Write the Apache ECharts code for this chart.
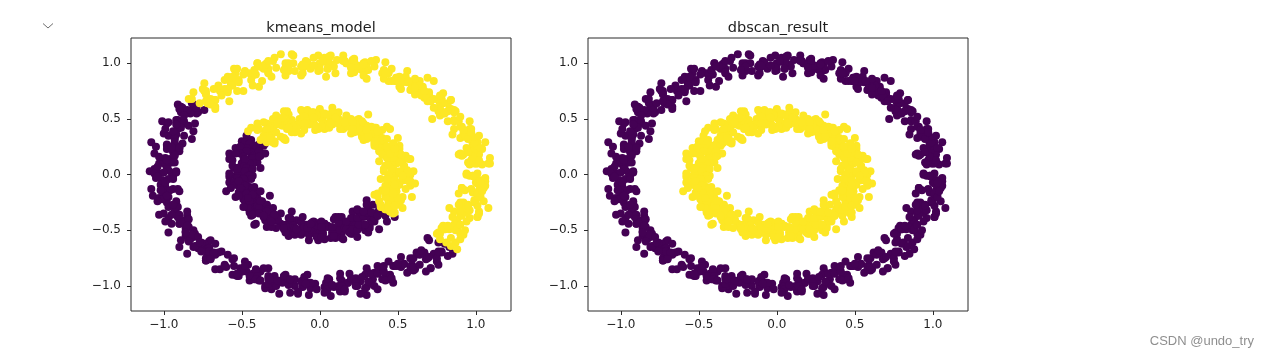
<!DOCTYPE html>
<html>
<head>
<meta charset="utf-8">
<script src="https://cdn.jsdelivr.net/npm/echarts@6.0.0/dist/echarts.min.js"></script>
<style>
html,body{margin:0;padding:0;background:#fff;}
#chart{width:1268px;height:357px;}
</style>
</head>
<body>
<div id="chart"></div>
<script>
// ---- data: make_circles points (outer ring r≈1, inner ring r≈0.5), split by k-means label ----
const titles = ['kmeans_model', 'dbscan_result'];
const xTicks = [-1.0, -0.5, 0.0, 0.5, 1.0];
const yTicks = [-1.0, -0.5, 0.0, 0.5, 1.0];
const tickLabels = ['\u22121.0', '\u22120.5', '0.0', '0.5', '1.0'];

// outer ring, points k-means put in the yellow cluster
const outerYellowK = [
[1.03,-0.05],[0.94,0.01],[1.01,0.01],[1.08,0.10],[0.98,-0.01],[0.96,0.10],[1.04,0.09],[0.99,0.10],
[0.90,0.19],[1.01,0.10],[1.04,0.23],[0.95,0.11],[0.97,0.23],[1.02,0.18],[0.90,0.33],[0.99,0.22],
[1.06,0.29],[0.91,0.17],[0.96,0.35],[0.93,0.34],[1.01,0.29],[0.86,0.41],[0.96,0.36],[0.92,0.37],
[0.91,0.43],[0.96,0.34],[0.86,0.49],[0.96,0.41],[0.82,0.48],[0.90,0.43],[0.84,0.58],[0.96,0.48],
[0.83,0.59],[0.86,0.56],[0.72,0.50],[0.87,0.57],[0.84,0.67],[0.76,0.57],[0.86,0.58],[0.78,0.67],
[0.77,0.64],[0.79,0.55],[0.67,0.69],[0.79,0.73],[0.69,0.66],[0.73,0.68],[0.65,0.76],[0.77,0.65],
[0.65,0.76],[0.73,0.84],[0.59,0.80],[0.65,0.71],[0.60,0.80],[0.69,0.87],[0.51,0.79],[0.62,0.77],
[0.55,0.88],[0.56,0.83],[0.58,0.76],[0.49,0.87],[0.56,0.93],[0.44,0.84],[0.49,0.87],[0.44,0.92],
[0.53,0.83],[0.42,0.92],[0.42,1.01],[0.30,0.86],[0.41,0.94],[0.40,0.91],[0.29,1.01],[0.41,0.86],
[0.30,0.98],[0.31,0.94],[0.30,0.96],[0.21,1.01],[0.29,0.93],[0.21,1.03],[0.22,0.92],[0.17,1.00],
[0.25,0.95],[0.15,1.07],[0.20,0.97],[0.17,1.00],[0.04,0.88],[0.11,1.03],[0.15,1.03],[0.05,0.95],
[-0.01,1.07],[0.08,0.99],[0.00,1.00],[-0.09,1.02],[-0.01,0.93],[0.03,1.05],[-0.10,0.97],[-0.08,1.01],
[-0.06,0.95],[-0.17,1.07],[-0.12,0.97],[-0.04,1.05],[-0.20,0.93],[-0.11,0.99],[-0.22,0.96],[-0.29,1.05],
[-0.22,0.89],[-0.20,1.00],[-0.33,0.95],[-0.28,0.96],[-0.22,1.00],[-0.33,0.91],[-0.40,1.00],[-0.31,0.88],
[-0.36,0.95],[-0.41,0.90],[-0.34,1.00],[-0.43,0.89],[-0.54,0.91],[-0.39,0.79],[-0.48,0.92],[-0.45,0.91],
[-0.57,0.82],[-0.42,0.94],[-0.56,0.84],[-0.52,0.85],[-0.56,0.85],[-0.61,0.76],[-0.55,0.86],[-0.65,0.78],
[-0.56,0.80],[-0.64,0.75],[-0.61,0.85],[-0.73,0.75],[-0.65,0.80],[-0.68,0.77],[-0.58,0.66],[-0.73,0.73],
[-0.75,0.77],[-0.67,0.67],[-0.73,0.72],[-0.77,0.64],[-0.72,0.64],[-0.84,0.68],
[0.77,-0.58],[0.81,-0.61],[0.76,-0.52],[0.87,-0.61],[0.77,-0.53],[0.91,-0.54],[0.83,-0.49],
[0.90,-0.58],[0.78,-0.48],[0.90,-0.53],[0.87,-0.50],[1.01,-0.38],[0.86,-0.45],[0.88,-0.49],[0.96,-0.39],
[0.86,-0.33],[0.94,-0.42],[0.94,-0.34],[0.92,-0.25],[1.02,-0.33],[0.90,-0.37],[0.99,-0.25],[0.95,-0.27],
[1.01,-0.28],[0.89,-0.17],[1.00,-0.23],[0.92,-0.31],[0.93,-0.14],[0.99,-0.23],[0.97,-0.13],[1.06,-0.06],
[0.91,-0.12],[1.02,-0.14],[0.99,-0.02],[1.00,-0.07],[1.05,-0.12],[0.96,-0.01],
[0.96,0.09],[1.02,-0.06],[1.00,0.10],[0.98,-0.01],[1.09,0.10],[0.97,0.13],[0.89,0.18],[0.98,0.15],
[0.94,0.24],[0.92,0.18],[0.98,0.16],[1.09,0.15],[1.02,0.13],[0.98,0.28],[0.95,0.20],[1.00,0.26],
[1.03,0.24],[0.98,0.28],[0.99,0.29],[1.02,0.35],[0.85,0.36],[0.98,0.34],[0.86,0.48],[0.93,0.36],
[0.95,0.32],[0.97,0.41],[0.92,0.40],[0.97,0.38],[0.89,0.48],[0.84,0.59],[0.82,0.57],[0.77,0.53],
[0.90,0.52],[0.78,0.57],[0.82,0.64],[0.77,0.59],[0.79,0.64],[0.76,0.67],[0.80,0.55],[0.78,0.68],
[0.73,0.60],[0.84,0.67],[0.70,0.72],[0.63,0.74],[0.70,0.74],[0.66,0.79],[0.61,0.75],[0.68,0.70],
[0.77,0.71],[0.71,0.66],[0.64,0.84],[0.61,0.72],[0.63,0.80],[0.67,0.75],[0.59,0.81],[0.61,0.78],
[0.61,0.86],[0.46,0.84],[0.57,0.84],[0.46,0.95],[0.49,0.84],[0.52,0.77],[0.51,0.88],[0.48,0.84],
[0.50,0.84],[0.44,0.91],[0.36,1.03],[0.35,0.97],[0.27,0.94],[0.42,0.91],[0.27,0.98],[0.33,1.02],
[0.24,0.98],[0.28,1.00],[0.22,1.04],[0.28,0.89],[0.22,1.02],[0.20,0.91],[0.28,0.99],[0.16,1.02],
[0.06,1.05],[0.15,1.02],[0.07,1.07],[0.05,1.01],[0.09,0.97],[0.20,0.96],[0.10,0.91],[0.06,1.06],
[0.00,0.94],[0.05,1.00],[0.05,0.95],[0.00,0.99],[-0.01,0.96],[0.02,1.02],[-0.17,1.00],[-0.04,0.98],
[-0.18,1.08],[-0.11,0.96],[-0.12,0.89],[-0.10,0.98],[-0.16,0.93],[-0.11,0.91],[-0.20,0.97],[-0.25,1.08],
[-0.30,1.02],[-0.35,0.98],[-0.23,0.94],[-0.35,0.99],[-0.33,1.02],[-0.38,0.97],[-0.37,0.97],[-0.40,1.00],
[-0.37,0.84],[-0.39,0.97],[-0.44,0.85],[-0.33,0.92],[-0.48,0.93],[-0.55,0.95],[-0.49,0.90],[-0.53,0.95],
[-0.59,0.88],[-0.52,0.83],[-0.43,0.80],[-0.49,0.75],[-0.56,0.88],[-0.59,0.76],[-0.57,0.80],[-0.53,0.75],
[-0.61,0.77],[-0.59,0.74],[-0.59,0.77],[-0.74,0.75],[-0.63,0.71],[-0.74,0.82],[-0.70,0.68],[-0.67,0.61],
[-0.67,0.67],[-0.70,0.63],[-0.67,0.59],[-0.73,0.66],[-0.81,0.74],[-0.82,0.68],
[0.84,-0.64],[0.88,-0.67],[0.84,-0.57],[0.79,-0.46],[0.80,-0.49],[0.75,-0.53],[0.92,-0.54],[0.80,-0.49],
[0.87,-0.41],[0.82,-0.46],[0.88,-0.41],[0.85,-0.38],[0.93,-0.50],[0.91,-0.37],[0.90,-0.45],[1.01,-0.38],
[0.90,-0.32],[0.83,-0.30],[0.94,-0.30],[0.90,-0.25],[0.89,-0.27],[0.96,-0.32],[1.08,-0.30],[1.02,-0.35],
[0.98,-0.16],[0.95,-0.28],[1.01,-0.19],[1.05,-0.24],[1.01,-0.17],[1.03,-0.20],[1.06,-0.10],[0.91,-0.12],
[1.05,-0.11],[0.94,0.00],[1.01,-0.08],[1.04,-0.15],[1.06,-0.03],[1.03,-0.07]
];

// outer ring, points k-means put in the purple cluster
const outerPurpleK = [
[-0.81,0.63],[-0.79,0.55],[-0.78,0.56],[-0.82,0.58],[-0.79,0.60],[-0.91,0.49],[-0.83,0.55],[-0.91,0.63],
[-0.92,0.47],[-0.86,0.56],[-0.90,0.46],[-0.81,0.39],[-0.98,0.46],[-0.87,0.48],[-0.92,0.36],[-0.91,0.41],
[-0.88,0.46],[-0.97,0.35],[-0.88,0.28],[-1.00,0.37],[-0.93,0.32],[-0.98,0.27],[-0.87,0.35],[-0.98,0.26],
[-0.96,0.14],[-1.08,0.29],[-0.94,0.20],[-0.95,0.23],[-1.03,0.10],[-0.91,0.25],[-1.00,0.11],[-0.99,0.15],
[-0.97,0.10],[-1.06,0.05],[-0.95,0.11],[-1.03,0.01],[-0.99,0.09],[-1.04,0.01],[-0.92,0.03],[-1.02,-0.09],
[-0.94,-0.01],[-0.97,-0.04],[-1.06,0.04],[-0.99,-0.11],[-0.91,-0.13],[-1.01,-0.05],[-1.03,-0.21],[-0.94,-0.13],
[-0.98,-0.17],[-1.07,-0.19],[-0.96,-0.14],[-0.92,-0.26],[-1.00,-0.21],[-0.98,-0.25],[-0.92,-0.24],[-1.03,-0.36],
[-0.93,-0.29],[-0.85,-0.37],[-0.91,-0.29],[-1.00,-0.35],[-0.92,-0.35],[-0.85,-0.44],[-0.93,-0.33],[-0.95,-0.44],
[-0.85,-0.43],[-0.90,-0.44],[-0.97,-0.52],[-0.86,-0.43],[-0.81,-0.56],[-0.90,-0.44],[-0.86,-0.55],[-0.81,-0.50],
[-0.90,-0.65],[-0.81,-0.54],[-0.71,-0.60],[-0.86,-0.48],[-0.78,-0.66],[-0.81,-0.65],[-0.70,-0.59],[-0.85,-0.71],
[-0.71,-0.66],[-0.75,-0.67],[-0.72,-0.71],[-0.67,-0.62],[-0.73,-0.77],[-0.63,-0.69],[-0.73,-0.75],[-0.65,-0.70],
[-0.67,-0.85],[-0.55,-0.75],[-0.64,-0.85],[-0.61,-0.82],[-0.70,-0.75],[-0.55,-0.82],[-0.53,-0.91],[-0.61,-0.81],
[-0.46,-0.81],[-0.54,-0.90],[-0.50,-0.87],[-0.48,-0.78],[-0.54,-0.90],[-0.42,-0.94],[-0.47,-0.87],[-0.43,-0.89],
[-0.45,-0.95],[-0.33,-0.84],[-0.39,-0.95],[-0.31,-1.03],[-0.29,-0.91],[-0.35,-1.00],[-0.29,-0.94],[-0.38,-0.87],
[-0.20,-0.98],[-0.31,-1.00],[-0.23,-0.92],[-0.24,-0.97],[-0.26,-1.07],[-0.17,-0.96],[-0.23,-0.92],[-0.11,-1.01],
[-0.16,-1.00],[-0.11,-0.95],[-0.19,-1.06],[-0.08,-0.97],[-0.08,-0.90],[0.04,-1.05],[-0.07,-0.99],[-0.06,-1.02],
[0.05,-0.93],[-0.07,-1.08],[0.04,-0.97],[0.03,-1.01],[0.05,-1.00],[0.14,-0.95],[0.05,-1.03],[0.13,-0.93],
[0.13,-1.05],[0.18,-0.97],[0.09,-1.01],[0.19,-0.89],[0.15,-1.00],[0.18,-0.97],[0.30,-1.08],[0.23,-0.93],
[0.20,-0.93],[0.30,-1.01],[0.35,-0.88],[0.26,-0.96],[0.34,-0.94],[0.43,-0.92],[0.35,-1.00],[0.31,-0.88],
[0.44,-0.94],[0.42,-0.90],[0.40,-0.94],[0.51,-0.82],[0.45,-0.90],[0.37,-0.82],[0.47,-0.82],[0.56,-0.88],
[0.52,-0.83],[0.45,-0.92],[0.58,-0.75],[0.60,-0.86],[0.54,-0.80],[0.59,-0.81],[0.71,-0.84],[0.60,-0.75],
[0.58,-0.83],[0.67,-0.71],[0.68,-0.76],[0.63,-0.71],[0.76,-0.81],[0.67,-0.70],[0.62,-0.70],[0.73,-0.71],
[0.76,-0.70],[0.70,-0.59],[0.85,-0.71],[0.76,-0.61],[0.80,-0.62],
[-0.89,0.61],[-0.74,0.58],[-0.88,0.60],[-0.82,0.64],[-0.89,0.56],[-0.85,0.58],[-0.90,0.59],[-0.84,0.44],
[-0.87,0.53],[-0.89,0.42],[-0.80,0.46],[-0.92,0.49],[-1.01,0.48],[-0.92,0.45],[-0.97,0.47],[-0.99,0.41],
[-0.93,0.33],[-0.82,0.32],[-0.90,0.24],[-0.94,0.39],[-0.98,0.23],[-0.93,0.29],[-0.90,0.21],[-0.95,0.25],
[-0.93,0.18],[-0.90,0.24],[-1.06,0.19],[-0.93,0.17],[-1.05,0.25],[-0.98,0.13],[-0.95,0.02],[-0.93,0.11],
[-0.97,0.04],[-0.92,0.02],[-0.98,0.05],[-1.03,0.16],[-1.04,0.07],[-1.09,0.03],[-0.94,-0.04],[-1.06,0.01],
[-1.00,0.02],[-1.05,-0.03],[-1.01,-0.05],[-1.04,-0.02],[-0.97,-0.20],[-0.99,-0.07],[-1.01,-0.22],[-0.90,-0.15],
[-1.01,-0.15],[-1.08,-0.13],[-0.98,-0.19],[-1.02,-0.14],[-1.04,-0.24],[-0.97,-0.29],[-0.85,-0.33],[-0.91,-0.38],
[-0.94,-0.27],[-0.97,-0.39],[-0.90,-0.36],[-0.86,-0.41],[-0.90,-0.40],[-0.88,-0.43],[-0.84,-0.40],[-0.99,-0.42],
[-0.84,-0.47],[-0.95,-0.36],[-0.86,-0.51],[-0.83,-0.58],[-0.80,-0.53],[-0.83,-0.57],[-0.76,-0.61],[-0.82,-0.54],
[-0.85,-0.46],[-0.86,-0.52],[-0.89,-0.59],[-0.74,-0.62],[-0.84,-0.60],[-0.78,-0.56],[-0.80,-0.64],[-0.76,-0.62],
[-0.77,-0.61],[-0.71,-0.76],[-0.71,-0.66],[-0.73,-0.77],[-0.59,-0.72],[-0.71,-0.69],[-0.76,-0.69],[-0.67,-0.72],
[-0.68,-0.70],[-0.70,-0.76],[-0.60,-0.83],[-0.49,-0.84],[-0.52,-0.91],[-0.56,-0.76],[-0.56,-0.90],[-0.51,-0.84],
[-0.45,-0.91],[-0.50,-0.87],[-0.44,-0.91],[-0.41,-0.85],[-0.53,-0.89],[-0.40,-0.91],[-0.48,-0.82],[-0.41,-0.94],
[-0.35,-1.02],[-0.33,-0.93],[-0.33,-0.98],[-0.28,-1.00],[-0.31,-0.95],[-0.36,-0.84],[-0.33,-0.91],[-0.38,-0.95],
[-0.20,-0.99],[-0.32,-0.94],[-0.22,-0.90],[-0.27,-0.95],[-0.20,-0.94],[-0.23,-0.91],[-0.14,-1.07],[-0.16,-0.94],
[-0.14,-1.05],[-0.03,-0.98],[-0.12,-0.96],[-0.19,-0.94],[-0.06,-0.97],[-0.10,-0.92],[-0.09,-0.98],[-0.02,-1.03],
[0.13,-1.04],[0.07,-1.09],[0.06,-0.94],[0.03,-1.06],[0.12,-1.00],[0.16,-1.05],[0.14,-1.00],[0.16,-1.03],
[0.23,-0.97],[0.08,-0.99],[0.24,-1.00],[0.13,-0.89],[0.23,-1.00],[0.26,-1.07],[0.32,-0.98],[0.29,-1.02],
[0.37,-1.03],[0.31,-0.96],[0.30,-0.84],[0.29,-0.90],[0.27,-0.92],[0.42,-0.95],[0.33,-0.89],[0.39,-0.85],
[0.37,-0.89],[0.41,-0.87],[0.41,-0.82],[0.47,-0.97],[0.48,-0.82],[0.46,-0.93],[0.61,-0.85],[0.49,-0.82],
[0.44,-0.78],[0.53,-0.81],[0.52,-0.74],[0.50,-0.80],[0.60,-0.83],[0.71,-0.84],[0.68,-0.87],[0.64,-0.72],
[0.64,-0.81],[0.69,-0.75],[0.75,-0.78],[0.70,-0.74],[0.75,-0.75],[0.78,-0.69],[0.65,-0.68],[0.78,-0.70],
[0.69,-0.57],[0.76,-0.69],[0.82,-0.73],[0.83,-0.65]
];

// inner ring, points k-means put in the yellow cluster
const innerYellowK = [
[0.50,0.02],[0.45,-0.07],[0.54,0.07],[0.44,-0.01],[0.56,0.04],[0.48,-0.01],[0.53,0.13],[0.41,0.03],
[0.52,0.13],[0.49,0.10],[0.60,0.03],[0.45,0.10],[0.46,0.18],[0.54,0.08],[0.42,0.08],[0.50,0.17],
[0.48,0.14],[0.46,0.05],[0.55,0.17],[0.43,0.21],[0.50,0.14],[0.46,0.16],[0.50,0.23],[0.38,0.12],
[0.48,0.22],[0.40,0.30],[0.42,0.17],[0.51,0.23],[0.43,0.21],[0.36,0.30],[0.45,0.17],[0.47,0.28],
[0.37,0.25],[0.42,0.26],[0.50,0.33],[0.39,0.24],[0.34,0.35],[0.43,0.23],[0.40,0.33],[0.35,0.28],
[0.45,0.41],[0.36,0.30],[0.27,0.34],[0.42,0.22],[0.35,0.39],[0.38,0.38],[0.28,0.31],[0.43,0.43],
[0.30,0.36],[0.34,0.37],[0.30,0.38],[0.39,0.33],[0.26,0.43],[0.34,0.33],[0.28,0.46],[0.33,0.38],
[0.20,0.44],[0.30,0.32],[0.20,0.44],[0.23,0.41],[0.31,0.54],[0.24,0.39],[0.15,0.41],[0.25,0.49],
[0.26,0.38],[0.17,0.46],[0.20,0.46],[0.29,0.44],[0.17,0.53],[0.13,0.41],[0.20,0.50],[0.18,0.46],
[0.11,0.52],[0.22,0.40],[0.12,0.50],[0.04,0.42],[0.17,0.46],[0.11,0.55],[0.12,0.48],[0.03,0.41],
[0.17,0.51],[0.06,0.53],[0.08,0.45],[0.07,0.50],[0.00,0.59],[0.09,0.48],[-0.03,0.44],[0.09,0.53],
[0.00,0.51],[0.05,0.46],[-0.09,0.57],[0.02,0.48],[-0.03,0.40],[0.09,0.55],[-0.07,0.49],[-0.06,0.52],
[0.00,0.43],[-0.12,0.58],[-0.06,0.47],[-0.07,0.51],[-0.09,0.47],[-0.04,0.56],[-0.14,0.44],[-0.04,0.52],
[-0.18,0.48],[-0.10,0.53],[-0.17,0.40],[-0.05,0.50],[-0.17,0.42],[-0.14,0.45],[-0.28,0.53],[-0.13,0.46],
[-0.16,0.38],[-0.24,0.48],[-0.13,0.50],[-0.21,0.41],[-0.22,0.45],[-0.20,0.54],[-0.30,0.42],[-0.18,0.38],
[-0.28,0.46],[-0.24,0.44],[-0.30,0.38],[-0.18,0.49],[-0.30,0.39],[-0.22,0.31],[-0.26,0.45],[-0.35,0.39],
[-0.30,0.41],[-0.23,0.32],[-0.34,0.46],[-0.36,0.35],[-0.28,0.38],[-0.33,0.37],[-0.33,0.40],[-0.30,0.29],
[-0.39,0.41],[-0.38,0.31],[-0.33,0.36],[-0.36,0.34],[-0.29,0.30],[-0.44,0.42],[-0.34,0.33],
[0.39,-0.29],[0.45,-0.33],[0.46,-0.23],[0.46,-0.25],[0.44,-0.25],[0.35,-0.18],[0.51,-0.27],[0.40,-0.29],
[0.45,-0.18],[0.44,-0.23],[0.49,-0.20],[0.40,-0.14],[0.52,-0.23],[0.44,-0.20],[0.49,-0.15],[0.38,-0.24],
[0.49,-0.15],[0.47,-0.05],[0.59,-0.20],[0.44,-0.13],[0.45,-0.16],[0.54,-0.05],[0.42,-0.20],[0.50,-0.07],
[0.49,-0.11],[0.51,-0.09],[0.42,-0.14],[0.55,-0.03],[0.47,-0.13],[0.51,0.01],[0.46,-0.07],[0.58,0.00],
[0.48,-0.12],[0.56,0.00],[0.53,-0.03],
[0.58,-0.06],[0.52,0.01],[0.47,0.14],[0.46,0.08],[0.41,0.05],[0.56,0.02],[0.44,0.09],[0.50,0.13],
[0.44,0.10],[0.48,0.12],[0.45,0.17],[0.51,0.02],[0.49,0.16],[0.47,0.05],[0.57,0.14],[0.45,0.17],
[0.38,0.21],[0.47,0.18],[0.42,0.24],[0.40,0.18],[0.47,0.15],[0.58,0.14],[0.51,0.11],[0.47,0.26],
[0.43,0.15],[0.48,0.21],[0.52,0.18],[0.47,0.22],[0.48,0.20],[0.51,0.26],[0.35,0.26],[0.48,0.24],
[0.36,0.36],[0.43,0.24],[0.45,0.19],[0.47,0.28],[0.43,0.25],[0.48,0.23],[0.41,0.31],[0.36,0.42],
[0.34,0.38],[0.29,0.34],[0.43,0.32],[0.31,0.37],[0.35,0.42],[0.30,0.37],[0.33,0.41],[0.30,0.44],
[0.35,0.30],[0.33,0.43],[0.29,0.33],[0.40,0.40],[0.27,0.44],[0.20,0.46],[0.28,0.44],[0.24,0.49],
[0.20,0.44],[0.27,0.39],[0.37,0.39],[0.31,0.34],[0.25,0.50],[0.22,0.38],[0.26,0.45],[0.30,0.40],
[0.23,0.44],[0.25,0.41],[0.27,0.48],[0.12,0.46],[0.23,0.45],[0.12,0.56],[0.17,0.44],[0.20,0.37],
[0.21,0.47],[0.18,0.43],[0.21,0.41],[0.15,0.48],[0.08,0.60],[0.07,0.54],[0.01,0.50],[0.16,0.47],
[0.02,0.52],[0.08,0.56],[0.01,0.52],[0.05,0.54],[0.00,0.57],[0.06,0.42],[0.03,0.55],[0.01,0.44],
[0.10,0.51],[-0.02,0.54],[-0.11,0.56],[-0.02,0.53],[-0.08,0.58],[-0.10,0.52],[-0.04,0.47],[0.07,0.46],
[-0.01,0.41],[-0.05,0.56],[-0.10,0.43],[-0.05,0.49],[-0.03,0.44],[-0.08,0.48],[-0.07,0.45],[-0.04,0.51],
[-0.21,0.48],[-0.08,0.46],[-0.21,0.57],[-0.14,0.45],[-0.12,0.37],[-0.10,0.46],[-0.15,0.42],[-0.10,0.40],
[-0.18,0.46],[-0.23,0.57],[-0.25,0.50],[-0.30,0.46],[-0.17,0.43],[-0.29,0.48],[-0.24,0.51],[-0.29,0.46],
[-0.27,0.47],[-0.30,0.50],[-0.25,0.34],[-0.27,0.47],[-0.31,0.35],[-0.20,0.42],[-0.33,0.44],[-0.40,0.46],
[-0.32,0.42],[-0.36,0.47],[-0.40,0.40],[-0.33,0.35],[-0.23,0.33],[-0.29,0.28],[-0.34,0.41],
[-0.34,0.34],[-0.30,0.29],[-0.36,0.32],[-0.34,0.29],[-0.32,0.33],[-0.46,0.39],
[0.39,-0.27],[0.42,-0.31],[0.47,-0.35],[0.42,-0.31],[0.45,-0.33],[0.48,-0.27],[0.47,-0.29],
[0.37,-0.17],[0.44,-0.29],[0.48,-0.34],[0.50,-0.25],[0.48,-0.28],[0.53,-0.30],[0.47,-0.21],[0.42,-0.10],
[0.42,-0.15],[0.37,-0.19],[0.53,-0.20],[0.41,-0.15],[0.47,-0.09],[0.42,-0.14],[0.47,-0.11],[0.44,-0.08],
[0.50,-0.21],[0.48,-0.08],[0.47,-0.17],[0.58,-0.10],[0.46,-0.06],[0.39,-0.04],[0.48,-0.05],[0.44,0.00],
[0.43,-0.04],[0.50,-0.09],[0.61,-0.08],[0.55,-0.13],[0.51,0.03],[0.48,-0.09],[0.53,-0.01],[0.57,-0.06]
];

// inner ring, points k-means put in the purple cluster
const innerPurpleK = [
[-0.44,0.31],[-0.45,0.23],[-0.39,0.25],[-0.42,0.26],[-0.49,0.21],[-0.39,0.27],[-0.43,0.26],
[-0.41,0.25],[-0.50,0.30],[-0.39,0.19],[-0.47,0.29],[-0.44,0.16],[-0.49,0.24],[-0.38,0.17],[-0.48,0.29],
[-0.40,0.17],[-0.43,0.20],[-0.53,0.06],[-0.46,0.21],[-0.40,0.18],[-0.50,0.10],[-0.52,0.21],[-0.43,0.13],
[-0.49,0.12],[-0.58,0.14],[-0.47,0.03],[-0.43,0.15],[-0.52,0.06],[-0.50,0.10],[-0.46,0.03],[-0.57,0.15],
[-0.48,0.03],[-0.40,0.11],[-0.55,0.06],[-0.49,-0.03],[-0.52,0.03],[-0.43,0.10],[-0.58,-0.02],[-0.47,-0.04],
[-0.51,0.03],[-0.50,-0.02],[-0.45,-0.12],[-0.54,-0.01],[-0.44,0.01],[-0.56,-0.08],[-0.48,-0.08],[-0.53,-0.03],
[-0.40,-0.16],[-0.51,-0.07],[-0.48,0.00],[-0.60,-0.15],[-0.45,-0.11],[-0.46,-0.14],[-0.53,-0.07],[-0.41,-0.22],
[-0.49,-0.12],[-0.48,-0.16],[-0.47,-0.19],[-0.52,-0.10],[-0.42,-0.24],[-0.52,-0.16],[-0.40,-0.21],[-0.48,-0.16],
[-0.42,-0.30],[-0.54,-0.20],[-0.42,-0.29],[-0.45,-0.26],[-0.32,-0.19],[-0.47,-0.26],[-0.45,-0.34],[-0.37,-0.24],
[-0.48,-0.24],[-0.40,-0.33],[-0.40,-0.29],[-0.42,-0.20],[-0.32,-0.33],[-0.44,-0.37],[-0.35,-0.29],[-0.39,-0.31],
[-0.33,-0.37],[-0.45,-0.26],[-0.34,-0.37],[-0.42,-0.45],[-0.38,-0.31],[-0.29,-0.37],[-0.34,-0.35],[-0.41,-0.44],
[-0.30,-0.30],[-0.28,-0.41],[-0.36,-0.38],[-0.31,-0.39],[-0.20,-0.45],[-0.31,-0.36],[-0.34,-0.47],[-0.25,-0.35],
[-0.25,-0.44],[-0.30,-0.39],[-0.18,-0.52],[-0.27,-0.41],[-0.33,-0.45],[-0.18,-0.33],[-0.23,-0.49],[-0.20,-0.48],
[-0.27,-0.41],[-0.12,-0.53],[-0.22,-0.45],[-0.18,-0.46],[-0.17,-0.45],[-0.12,-0.54],[-0.19,-0.43],[-0.09,-0.51],
[-0.20,-0.47],[-0.12,-0.52],[-0.15,-0.41],[-0.03,-0.51],[-0.12,-0.43],[-0.09,-0.46],[-0.20,-0.55],[-0.05,-0.48],
[-0.04,-0.42],[-0.12,-0.52],[0.02,-0.54],[-0.06,-0.45],[-0.03,-0.50],[-0.01,-0.59],[-0.09,-0.48],[0.03,-0.44],
[-0.03,-0.53],[0.01,-0.51],[-0.02,-0.46],[0.10,-0.57],[0.01,-0.48],[0.09,-0.40],[0.08,-0.55],[-0.01,-0.49],
[0.08,-0.52],[0.15,-0.43],[0.07,-0.57],[0.05,-0.46],[0.15,-0.50],[0.10,-0.49],[0.03,-0.44],[0.14,-0.53],
[0.20,-0.42],[0.11,-0.54],[0.14,-0.46],[0.19,-0.51],[0.10,-0.38],[0.19,-0.49],[0.29,-0.45],[0.14,-0.57],
[0.21,-0.42],[0.18,-0.43],[0.29,-0.50],[0.14,-0.38],[0.26,-0.45],[0.22,-0.44],[0.23,-0.43],[0.32,-0.38],
[0.21,-0.46],[0.29,-0.36],[0.27,-0.47],[0.32,-0.39],[0.21,-0.43],[0.31,-0.31],[0.25,-0.41],[0.28,-0.38],
[0.38,-0.49],[0.31,-0.34],[0.25,-0.34],[0.35,-0.42],[0.30,-0.37],[0.36,-0.35],[0.35,-0.40],[0.31,-0.28],
[0.41,-0.35],[0.39,-0.31],[0.35,-0.35],[0.38,-0.31],[0.30,-0.23],[0.40,-0.34],[0.40,-0.31],
[-0.37,0.29],[-0.47,0.31],[-0.35,0.28],[-0.40,0.26],[-0.37,0.19],[-0.36,0.26],[-0.39,0.22],[-0.35,0.19],
[-0.41,0.26],[-0.47,0.35],[-0.48,0.29],[-0.54,0.24],[-0.39,0.21],[-0.51,0.24],[-0.45,0.28],[-0.51,0.22],
[-0.47,0.24],[-0.51,0.25],[-0.45,0.10],[-0.47,0.21],[-0.49,0.10],[-0.39,0.16],[-0.51,0.19],[-0.58,0.19],
[-0.49,0.16],[-0.54,0.19],[-0.56,0.13],[-0.49,0.07],[-0.38,0.06],[-0.44,-0.01],[-0.48,0.14],[-0.52,0.00],
[-0.47,0.06],[-0.43,-0.01],[-0.48,0.03],[-0.46,-0.01],[-0.43,0.05],[-0.58,0.01],[-0.45,-0.01],[-0.56,0.08],
[-0.49,-0.04],[-0.46,-0.13],[-0.44,-0.04],[-0.47,-0.09],[-0.42,-0.11],[-0.48,-0.06],[-0.53,0.05],[-0.53,-0.03],
[-0.58,-0.07],[-0.43,-0.12],[-0.55,-0.07],[-0.49,-0.04],[-0.54,-0.09],[-0.49,-0.09],[-0.52,-0.06],[-0.46,-0.23],
[-0.48,-0.10],[-0.49,-0.22],[-0.38,-0.15],[-0.50,-0.14],[-0.57,-0.12],[-0.47,-0.17],[-0.51,-0.12],[-0.52,-0.19],
[-0.45,-0.24],[-0.34,-0.27],[-0.40,-0.32],[-0.43,-0.18],[-0.46,-0.30],[-0.40,-0.26],[-0.36,-0.31],[-0.40,-0.28],
[-0.38,-0.31],[-0.34,-0.27],[-0.49,-0.29],[-0.35,-0.32],[-0.46,-0.21],[-0.38,-0.34],[-0.35,-0.41],[-0.32,-0.34],
[-0.35,-0.38],[-0.29,-0.41],[-0.35,-0.34],[-0.38,-0.24],[-0.39,-0.30],[-0.43,-0.36],[-0.28,-0.39],[-0.39,-0.35],
[-0.33,-0.31],[-0.36,-0.37],[-0.32,-0.35],[-0.34,-0.33],[-0.28,-0.48],[-0.29,-0.36],[-0.31,-0.47],[-0.18,-0.41],
[-0.30,-0.38],[-0.36,-0.37],[-0.27,-0.40],[-0.29,-0.36],[-0.31,-0.42],[-0.23,-0.48],[-0.12,-0.49],[-0.16,-0.54],
[-0.20,-0.39],[-0.22,-0.52],[-0.17,-0.46],[-0.11,-0.52],[-0.16,-0.48],[-0.12,-0.51],[-0.09,-0.45],[-0.23,-0.48],
[-0.10,-0.50],[-0.19,-0.39],[-0.12,-0.51],[-0.07,-0.59],[-0.05,-0.50],[-0.07,-0.54],[-0.02,-0.56],[-0.06,-0.49],
[-0.11,-0.38],[-0.10,-0.45],[-0.15,-0.49],[0.02,-0.52],[-0.10,-0.47],[-0.03,-0.43],[-0.08,-0.48],[-0.02,-0.46],
[-0.05,-0.43],[0.03,-0.58],[0.01,-0.45],[0.01,-0.56],[0.12,-0.49],[0.01,-0.46],[-0.06,-0.44],[0.05,-0.47],
[0.01,-0.42],[0.01,-0.47],[0.08,-0.52],[0.21,-0.53],[0.15,-0.58],[0.12,-0.43],[0.09,-0.55],[0.16,-0.48],
[0.20,-0.53],[0.17,-0.49],[0.19,-0.52],[0.23,-0.45],[0.08,-0.47],[0.23,-0.49],[0.12,-0.38],[0.21,-0.49],
[0.24,-0.56],[0.27,-0.46],[0.24,-0.50],[0.31,-0.52],[0.25,-0.45],[0.21,-0.33],[0.20,-0.39],[0.17,-0.42],
[0.32,-0.45],[0.21,-0.39],[0.27,-0.35],[0.24,-0.39],[0.28,-0.37],[0.26,-0.33],[0.32,-0.48],[0.31,-0.34],
[0.29,-0.45],[0.42,-0.37],[0.30,-0.34],[0.24,-0.31],[0.33,-0.34],[0.30,-0.27],[0.28,-0.33],[0.37,-0.37],
[0.48,-0.38],[0.43,-0.42],[0.37,-0.37],[0.34,-0.27]
];

// ---- presentation ----
const PURPLE = '#440154';
const YELLOW = '#fde725';
const AXIS_COLOR = '#2b2b2b';
const TEXT_COLOR = '#1f1f1f';
const FONT = '"DejaVu Sans", sans-serif';
const X_RANGE = [-1.21, 1.225];
const Y_RANGE = [-1.2245, 1.227];
const PLOT_TOP = 38, PLOT_H = 273, PLOT_W = 380;
const PLOT_LEFTS = [131, 588];

function fmt(ticks) {
  return function (v) {
    for (let i = 0; i < ticks.length; i++) {
      if (Math.abs(ticks[i] - v) < 1e-9) return tickLabels[i];
    }
    return '';
  };
}

const grids = PLOT_LEFTS.map(l => ({
  left: l, top: PLOT_TOP, width: PLOT_W, height: PLOT_H,
  show: true, borderColor: AXIS_COLOR, borderWidth: 1, backgroundColor: 'transparent',
  containLabel: false, outerBoundsMode: 'none'
}));

function makeAxis(kind, idx) {
  const ticks = kind === 'x' ? xTicks : yTicks;
  const range = kind === 'x' ? X_RANGE : Y_RANGE;
  return {
    type: 'value', gridIndex: idx, min: range[0], max: range[1],
    position: kind === 'x' ? 'bottom' : 'left',
    axisLine: { show: false, onZero: false },
    splitLine: { show: false },
    axisTick: { show: true, inside: false, length: 4, customValues: ticks,
      lineStyle: { color: AXIS_COLOR, width: 1 } },
    axisLabel: { show: true, customValues: ticks, formatter: fmt(ticks),
      color: TEXT_COLOR, fontSize: 12, fontFamily: FONT, margin: kind === 'x' ? 8 : 10 }
  };
}

function scatter(idx, data, color) {
  return {
    type: 'scatter', xAxisIndex: idx, yAxisIndex: idx, data: data,
    symbol: 'circle', symbolSize: 8, silent: true, animation: false,
    itemStyle: { color: color, opacity: 1, borderWidth: 0 },
    emphasis: { disabled: true }
  };
}

const chart = echarts.init(document.getElementById('chart'), null, { renderer: 'canvas' });
chart.setOption({
  backgroundColor: '#ffffff',
  animation: false,
  grid: grids,
  xAxis: [makeAxis('x', 0), makeAxis('x', 1)],
  yAxis: [makeAxis('y', 0), makeAxis('y', 1)],
  series: [
    scatter(0, outerPurpleK.concat(innerPurpleK), PURPLE),
    scatter(0, outerYellowK.concat(innerYellowK), YELLOW),
    scatter(1, outerPurpleK.concat(outerYellowK), PURPLE),
    scatter(1, innerPurpleK.concat(innerYellowK), YELLOW)
  ],
  graphic: [
    { type: 'text', x: PLOT_LEFTS[0] + PLOT_W / 2, y: 28,
      style: { text: titles[0], fill: TEXT_COLOR, font: '14.5px ' + FONT, textAlign: 'center', textVerticalAlign: 'middle' } },
    { type: 'text', x: PLOT_LEFTS[1] + PLOT_W / 2, y: 28,
      style: { text: titles[1], fill: TEXT_COLOR, font: '14.5px ' + FONT, textAlign: 'center', textVerticalAlign: 'middle' } },
    { type: 'polyline', shape: { points: [[43, 23.5], [48, 28], [53, 23.5]] },
      style: { stroke: '#6e6e6e', lineWidth: 1, fill: null } },
    { type: 'text', x: 1254, y: 341,
      style: { text: 'CSDN @undo_try', fill: '#8f8f8f', font: '13px "Liberation Sans", Arial, sans-serif', textAlign: 'right', textVerticalAlign: 'middle' } }
  ]
});
</script>
</body>
</html>
